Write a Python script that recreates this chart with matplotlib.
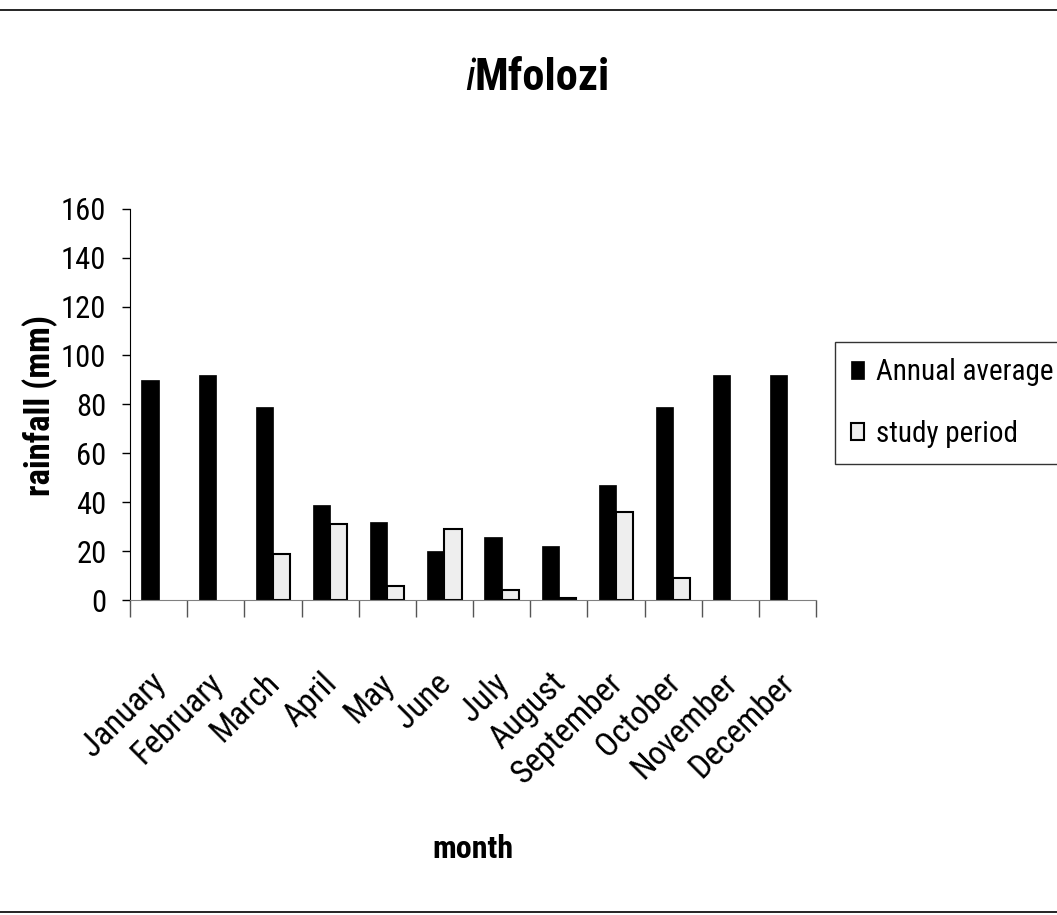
import numpy as np
import matplotlib
matplotlib.use("Agg")
import matplotlib.pyplot as plt
from matplotlib.lines import Line2D
from matplotlib.transforms import ScaledTranslation

# --- data ---
months = ['January', 'February', 'March', 'April', 'May', 'June', 'July',
          'August', 'September', 'October', 'November', 'December']
annual_average = [90, 92, 79, 39, 32, 20, 26, 22, 47, 79, 92, 92]
study_period = [0, 0, 19, 31, 6, 29, 4, 1, 36, 9, 0, 0]
y_ticks = [0, 20, 40, 60, 80, 100, 120, 140, 160]

# narrow grotesque, close to Arial Narrow
plt.rcParams['font.family'] = ['Roboto Condensed', 'Archivo Narrow', 'Liberation Sans', 'DejaVu Sans']

fig = plt.figure(figsize=(10.57, 9.15), dpi=100)
ax = fig.add_axes([0.123, 0.344, 0.649, 0.428])

x = np.arange(len(months))
w = 0.3
ax.bar(x - w / 2, annual_average, w, color='black', edgecolor='black',
       linewidth=0.5, label='Annual average')
study_x = [xi + w / 2 for xi, v in zip(x, study_period) if v > 0]
study_v = [v for v in study_period if v > 0]
ax.bar(study_x, study_v, w, color='#eeeeee', edgecolor='black',
       linewidth=1.5, label='study period')

ax.set_xlim(-0.5, len(months) - 0.5)
ax.set_ylim(0, 160)
ax.set_yticks(y_ticks)
ax.tick_params(axis='y', labelsize=22, length=6, width=1, pad=11, direction='out')

# boundaries between months carry the visible ticks
ax.set_xticks(np.arange(-0.5, len(months), 1.0), minor=True)
ax.tick_params(axis='x', which='minor', length=12, width=1, direction='out', color='#555555')
ax.set_xticks(x)
ax.set_xticklabels(months, rotation=45, ha='right', va='center',
                   rotation_mode='anchor', fontsize=24)
ax.tick_params(axis='x', which='major', length=0, pad=0)
offset = ScaledTranslation(0.02, -0.78, fig.dpi_scale_trans)
for lab in ax.get_xticklabels():
    lab.set_transform(lab.get_transform() + offset)

for side in ['top', 'right']:
    ax.spines[side].set_visible(False)
ax.spines['bottom'].set_color('#808080')

fig.text(0.038, 0.557, 'rainfall (mm)', rotation=90, ha='center', va='center',
         fontsize=25, fontweight='bold')
fig.text(0.447, 0.072, 'month', ha='center', va='center',
         fontsize=23, fontweight='bold')

# title: italic i + bold Mfolozi
fig.text(0.449, 0.915, 'i', ha='right', va='center', fontsize=32, style='italic')
fig.text(0.449, 0.915, 'Mfolozi', ha='left', va='center', fontsize=32, fontweight='bold')

leg = fig.legend(loc='upper left', bbox_to_anchor=(0.790, 0.626), fontsize=21,
                 frameon=True, fancybox=False, edgecolor='black',
                 handlelength=0.45, handleheight=0.55, handletextpad=0.4,
                 labelspacing=1.15, borderpad=0.55, borderaxespad=0)
leg.get_frame().set_linewidth(1)

fig.add_artist(Line2D([0, 1], [0.989, 0.989], color='black', lw=1.2))
fig.add_artist(Line2D([0, 1], [0.003, 0.003], color='black', lw=1.2))

fig.savefig('out.png', dpi=100)
